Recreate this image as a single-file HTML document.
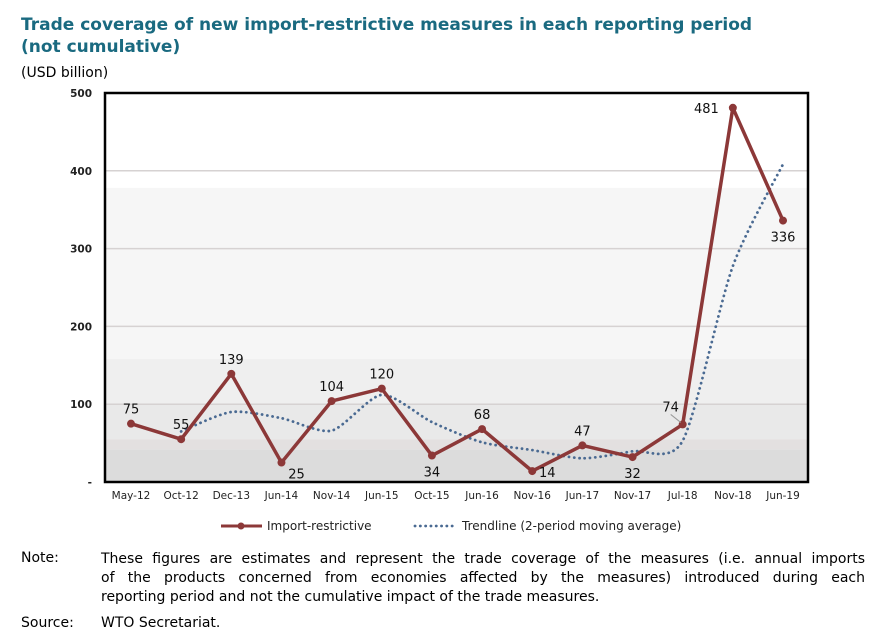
<!DOCTYPE html>
<html><head><meta charset="utf-8"><style>
body{margin:0;background:#fff;width:875px;height:638px;overflow:hidden;font-family:"DejaVu Sans",Verdana,"Liberation Sans",sans-serif}
.t{position:absolute;margin:0}
.j{display:block;text-align:justify;text-align-last:justify;white-space:nowrap}
</style></head><body>
<div class="t" style="left:21px;top:14px;font-size:17px;font-weight:bold;color:#1a6a80;line-height:22px">Trade coverage of new import-restrictive measures in each reporting period<br>(not cumulative)</div>
<div class="t" style="left:21px;top:65px;font-size:14px;color:#000">(USD billion)</div>
<svg id="c" width="875" height="638" style="position:absolute;left:0;top:0;font-family:'DejaVu Sans',Verdana,sans-serif"></svg>
<div class="t" style="left:21px;top:550px;font-size:14px">Note:</div>
<div class="t" style="left:101px;top:550px;width:764px;font-size:14px;line-height:19px">
<span class="j" style="white-space:normal">These figures are estimates and represent the trade coverage of the measures (i.e. annual imports</span>
<span class="j" style="white-space:normal">of the products concerned from economies affected by the measures) introduced during each</span>
<span style="display:block">reporting period and not the cumulative impact of the trade measures.</span></div>
<div class="t" style="left:21px;top:615px;font-size:14px">Source:</div>
<div class="t" style="left:101px;top:615px;font-size:14px">WTO Secretariat.</div>
<script>
const categories=["May-12","Oct-12","Dec-13","Jun-14","Nov-14","Jun-15","Oct-15","Jun-16","Nov-16","Jun-17","Nov-17","Jul-18","Nov-18","Jun-19"];
const importValues=[75,55,139,25,104,120,34,68,14,47,32,74,481,336];
const trendValues=[null,65,90,82,66,112,77,51,41,30.5,39.5,53,277.5,408.5];
const yTicks=[0,100,200,300,400,500];
const yTickLabels=["-","100","200","300","400","500"];
const labelPos=["above","above","above","right","above","above","below","above","right","above","below","aboveleft","left","below"];
const NS="http://www.w3.org/2000/svg";
const svg=document.getElementById('c');
const L=105,R=808,T=93,B=482;
const x=i=>131+i*(783-131)/(categories.length-1);
const y=v=>B-(v/500)*(B-T);
function mk(t,a,p){const e=document.createElementNS(NS,t);for(const k in a)e.setAttribute(k,a[k]);(p||svg).appendChild(e);return e;}
const bands=[[378,500,"#ffffff"],[158,378,"#f6f6f6"],[100,158,"#efefef"],[55,100,"#e9e9e9"],[42,55,"#e3e0e0"],[0,42,"#dcdcdc"]];
bands.forEach(b=>{const r=mk('rect',{x:L,y:y(b[1]),width:R-L,height:y(b[0])-y(b[1]),fill:b[2]});

});
yTicks.forEach((v,i)=>{
 if(v>0&&v<500){const g=mk('line',{x1:L,x2:R,y1:y(v),y2:y(v),stroke:"#d6d2d2","stroke-width":1.5});
 
 }
 const t=mk('text',{x:92,y:y(v)+4,"text-anchor":"end","font-size":10.5,"font-weight":"bold",fill:"#222"});t.textContent=yTickLabels[i];
 
 
});
const fr=mk('rect',{x:L,y:T,width:R-L,height:B-T,fill:"none",stroke:"#000","stroke-width":2.5});


categories.forEach((c,i)=>{const t=mk('text',{x:x(i),y:499,"text-anchor":"middle","font-size":10.5,fill:"#222"});t.textContent=c;

});
const tp=[];trendValues.forEach((v,i)=>{if(v!==null)tp.push([x(i),y(v)]);});
let d="M"+tp[0][0]+","+tp[0][1];
for(let i=0;i<tp.length-1;i++){const p0=tp[Math.max(0,i-1)],p1=tp[i],p2=tp[i+1],p3=tp[Math.min(tp.length-1,i+2)];
 d+=` C${p1[0]+(p2[0]-p0[0])/8},${p1[1]+(p2[1]-p0[1])/8} ${p2[0]-(p3[0]-p1[0])/8},${p2[1]-(p3[1]-p1[1])/8} ${p2[0]},${p2[1]}`;}
const tr=mk('path',{d:d,fill:"none",stroke:"#4a6a92","stroke-width":2.8,"stroke-dasharray":"0.1 5.2","stroke-linecap":"round"});


const ln=mk('polyline',{points:importValues.map((v,i)=>x(i)+","+y(v)).join(" "),fill:"none",stroke:"#8c3838","stroke-width":3.5,"stroke-linejoin":"round"});


importValues.forEach((v,i)=>{const c=mk('circle',{cx:x(i),cy:y(v),r:4,fill:"#8c3838"});


 let lx=x(i),ly=y(v)-10,anc="middle";const p=labelPos[i];
 if(p==="below"){ly=y(v)+21;}
 if(p==="right"){lx+=15;ly=y(v)+(v<20?6:16);}
 if(p==="aboveleft"){lx-=12;ly=y(v)-13;
  const ll=mk('line',{x1:x(i)-2,y1:y(v)-2,x2:x(i)-12,y2:y(v)-10,stroke:"#999","stroke-width":1});
  
  }
 if(p==="left"){lx-=14;ly=y(v)+5;anc="end";}
 const t=mk('text',{x:lx,y:ly,"text-anchor":anc,"font-size":13,fill:"#111"});t.textContent=v;
 
 });
const lg=mk('g',{});


mk('line',{x1:221,x2:262,y1:526,y2:526,stroke:"#8c3838","stroke-width":3},lg);
mk('circle',{cx:241,cy:526,r:3.5,fill:"#8c3838"},lg);
const l1=mk('text',{x:267,y:530,"font-size":12,fill:"#222"},lg);l1.textContent="Import-restrictive";


mk('line',{x1:415,x2:455,y1:526,y2:526,stroke:"#4a6a92","stroke-width":2.8,"stroke-dasharray":"0.1 5.2","stroke-linecap":"round"},lg);
const l2=mk('text',{x:462,y:530,"font-size":12,fill:"#222"},lg);l2.textContent="Trendline (2-period moving average)";


</script>
</body></html>
